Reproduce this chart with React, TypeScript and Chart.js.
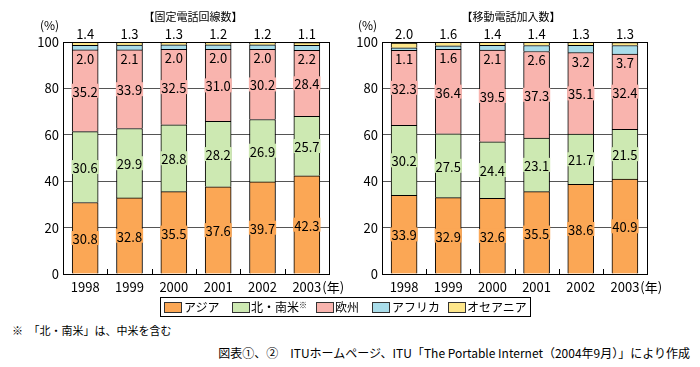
import React, { useEffect, useRef } from "react";
import { Chart, registerables } from "chart.js";

Chart.register(...registerables);

const years = ["1998", "1999", "2000", "2001", "2002", "2003"];
const yTickValues = [0, 20, 40, 60, 80, 100];

const fixedAsia = [30.8, 32.8, 35.5, 37.6, 39.7, 42.3];
const fixedAmericas = [30.6, 29.9, 28.8, 28.2, 26.9, 25.7];
const fixedEurope = [35.2, 33.9, 32.5, 31.0, 30.2, 28.4];
const fixedAfrica = [2.0, 2.1, 2.0, 2.0, 2.0, 2.2];
const fixedOceania = [1.4, 1.3, 1.3, 1.2, 1.2, 1.1];

const mobileAsia = [33.9, 32.9, 32.6, 35.5, 38.6, 40.9];
const mobileAmericas = [30.2, 27.5, 24.4, 23.1, 21.7, 21.5];
const mobileEurope = [32.3, 36.4, 39.5, 37.3, 35.1, 32.4];
const mobileAfrica = [1.1, 1.6, 2.1, 2.6, 3.2, 3.7];
const mobileOceania = [2.0, 1.6, 1.4, 1.4, 1.3, 1.3];

const seriesNames = ["アジア", "北・南米", "欧州", "アフリカ", "オセアニア"];
const seriesColors = ["#FBA755", "#CDE9B2", "#F9B4AE", "#A9DDEA", "#FDE68A"];

const FONT = '"Noto Sans CJK JP", "Noto Sans", sans-serif';

const labelPlugin = {
  id: "valueLabels",
  beforeDatasetsDraw(chart: any) {
    const ctx = chart.ctx;
    const xs = chart.scales.x;
    const { bottom } = chart.chartArea;
    ctx.save();
    ctx.strokeStyle = "#000";
    ctx.lineWidth = 1;
    for (let i = 0; i < years.length - 1; i++) {
      const x = Math.round((xs.getPixelForValue(i) + xs.getPixelForValue(i + 1)) / 2) + 0.5;
      ctx.beginPath();
      ctx.moveTo(x, bottom);
      ctx.lineTo(x, bottom - 5);
      ctx.stroke();
    }
    ctx.restore();
  },
  afterDatasetsDraw(chart: any) {
    const ctx = chart.ctx;
    const { top, left, right, bottom } = chart.chartArea;
    ctx.save();
    ctx.font = `13px ${FONT}`;
    ctx.textAlign = "center";
    ctx.textBaseline = "middle";
    chart.data.datasets.forEach((ds: any, di: number) => {
      const meta = chart.getDatasetMeta(di);
      meta.data.forEach((el: any, i: number) => {
        const txt = ds.data[i].toFixed(1);
        let y: number;
        let bg: string | null = null;
        if (di <= 2) {
          y = (el.y + el.base) / 2;
          bg = seriesColors[di];
        } else if (di === 3) {
          y = el.base + 8;
          bg = seriesColors[2];
        } else {
          y = top - 9;
        }
        const w = ctx.measureText(txt).width;
        if (bg) {
          ctx.fillStyle = bg;
          ctx.fillRect(el.x - w / 2 - 1, y - 7, w + 2, 14);
        }
        ctx.fillStyle = "#000";
        ctx.fillText(txt, el.x, y + 1);
      });
    });
    ctx.strokeStyle = "#000";
    ctx.lineWidth = 1;
    ctx.strokeRect(Math.round(left) + 0.5, Math.round(top) + 0.5, Math.round(right - left), Math.round(bottom - top));
    const xs = chart.scales.x;
    const lastX = xs.getPixelForValue(years.length - 1);
    const wLast = ctx.measureText(years[years.length - 1]).width;
    ctx.textAlign = "left";
    ctx.textBaseline = "middle";
    ctx.fillText("(年)", lastX + wLast / 2 + 1, bottom + 5 + 7.8);
    ctx.restore();
  },
};

function StackChart(props: { series: number[][]; left: number; yWidth: number; padRight: number }) {
  const ref = useRef<HTMLCanvasElement>(null);
  useEffect(() => {
    const chart = new Chart(ref.current as HTMLCanvasElement, {
      type: "bar",
      data: {
        labels: years,
        datasets: props.series.map((d, i) => ({
          label: seriesNames[i],
          data: d,
          backgroundColor: seriesColors[i],
          borderColor: "#000",
          borderWidth: 1,
          barThickness: 26,
        })),
      },
      options: {
        responsive: false,
        animation: false,
        layout: { padding: { left: 0, right: props.padRight, top: 42, bottom: 0 } },
        plugins: { legend: { display: false }, tooltip: { enabled: false } },
        scales: {
          x: {
            stacked: true,
            grid: { display: false, drawTicks: false },
            border: { display: true, color: "#000" },
            ticks: { color: "#000", font: { family: FONT, size: 13 }, padding: 5, maxRotation: 0, autoSkip: false },
            afterFit: (s: any) => {
              s.height = 26;
            },
          },
          y: {
            stacked: true,
            min: 0,
            max: 100,
            afterBuildTicks: (s: any) => {
              s.ticks = yTickValues.map((v) => ({ value: v }));
            },
            grid: { color: "#555", drawTicks: false },
            border: { color: "#000" },
            ticks: { color: "#000", font: { family: FONT, size: 13 }, padding: 4 },
            afterFit: (s: any) => {
              s.width = props.yWidth;
            },
          },
        },
      } as any,
      plugins: [labelPlugin],
    });
    return () => chart.destroy();
  }, []);
  return (
    <canvas
      ref={ref}
      width={350}
      height={300}
      style={{ position: "absolute", left: props.left, top: 0, width: 350, height: 300 }}
    />
  );
}

const txt = (size: number): React.CSSProperties => ({
  position: "absolute",
  fontFamily: FONT,
  fontSize: size,
  lineHeight: `${size}px`,
  whiteSpace: "nowrap",
  color: "#000",
});

export default function App() {
  const legendItems = [
    { sw: 164, tx: 184 },
    { sw: 232, tx: 251 },
    { sw: 316, tx: 335 },
    { sw: 372, tx: 392 },
    { sw: 448, tx: 467 },
  ];
  return (
    <div style={{ position: "fixed", left: 0, top: 0, width: 700, height: 367, background: "#fff", overflow: "hidden" }}>
      <StackChart
        series={[fixedAsia, fixedAmericas, fixedEurope, fixedAfrica, fixedOceania]}
        left={0}
        yWidth={63}
        padRight={21}
      />
      <StackChart
        series={[mobileAsia, mobileAmericas, mobileEurope, mobileAfrica, mobileOceania]}
        left={350}
        yWidth={32}
        padRight={53}
      />
      <div style={{ ...txt(11), left: 193, top: 11, transform: "translateX(-50%)" }}>【固定電話回線数】</div>
      <div style={{ ...txt(11), left: 511, top: 11, transform: "translateX(-50%)" }}>【移動電話加入数】</div>
      <div style={{ ...txt(12), left: 40, top: 19 }}>(%)</div>
      <div style={{ ...txt(12), left: 358, top: 19 }}>(%)</div>

      <div style={{ position: "absolute", left: 160, top: 297, width: 371, height: 20, border: "1px solid #000", boxSizing: "border-box" }} />
      {legendItems.map((it, i) => (
        <React.Fragment key={i}>
          <div
            style={{
              position: "absolute",
              left: it.sw,
              top: 302,
              width: 18,
              height: 11,
              background: seriesColors[i],
              border: "1px solid #333",
              boxSizing: "border-box",
            }}
          />
          <div style={{ ...txt(12), left: it.tx, top: 301 }}>
            {seriesNames[i]}
            {i === 1 ? <span style={{ fontSize: 8, verticalAlign: "top", lineHeight: "8px" }}>※</span> : null}
          </div>
        </React.Fragment>
      ))}

      <div style={{ ...txt(11), left: 12, top: 325 }}>※　「北・南米」は、中米を含む</div>
      <div style={{ ...txt(12), right: 10, top: 347 }}>
        図表①、②　ITUホームページ、ITU「The Portable Internet（2004年9月）」により作成
      </div>
    </div>
  );
}
